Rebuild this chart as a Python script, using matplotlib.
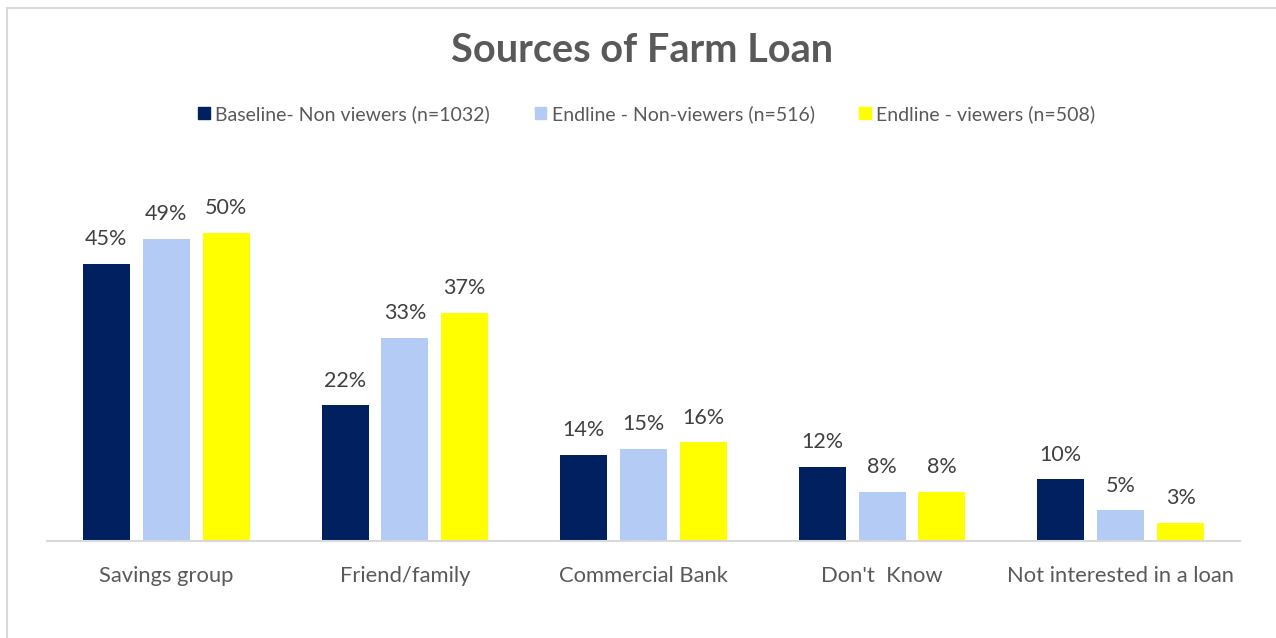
import matplotlib.pyplot as plt
import matplotlib.patches as mpatches
import numpy as np

categories = ["Savings group", "Friend/family", "Commercial Bank", "Don't  Know", "Not interested in a loan"]
series_names = ["Baseline- Non viewers (n=1032)", "Endline - Non-viewers (n=516)", "Endline - viewers (n=508)"]
baseline_non = [45, 22, 14, 12, 10]
endline_non = [49, 33, 15, 8, 5]
endline_view = [50, 37, 16, 8, 3]
colors = ["#002060", "#B4CBF6", "#FFFF00"]

plt.rcParams['font.family'] = ['Lato', 'DejaVu Sans']
text_color = "#404040"

fig = plt.figure(figsize=(12.76, 6.38), dpi=100)
ax = fig.add_axes([47 / 1276, 1 - 541 / 638, 1193 / 1276, 370 / 638])

x = np.arange(len(categories))
width = 0.197
step = 0.251
all_series = [baseline_non, endline_non, endline_view]
for i, (vals, col) in enumerate(zip(all_series, colors)):
    pos = x + (i - 1) * step
    bars = ax.bar(pos, vals, width=width, color=col, label=series_names[i], zorder=2)
    for b, v in zip(bars, vals):
        ax.annotate(f"{v}%", (b.get_x() + b.get_width() / 2, v), xytext=(0, 10.5),
                    textcoords='offset points', ha='center', va='bottom',
                    fontsize=15.5, color=text_color)

ax.set_xlim(-0.5, len(categories) - 0.5)
ax.set_ylim(0, 60)
ax.set_yticks([])
ax.set_xticks(x)
ax.set_xticklabels(categories, fontsize=15.8, color="#595959")
ax.tick_params(axis='x', length=0, pad=18)
for s in ['top', 'right', 'left']:
    ax.spines[s].set_visible(False)
ax.spines['bottom'].set_color("#D9D9D9")
ax.spines['bottom'].set_linewidth(1.5)

fig.text(0.503, 1 - 50 / 638, "Sources of Farm Loan", ha='center', va='center',
         fontsize=28.5, fontweight='bold', color="#595959")

handles = [mpatches.Patch(color=c, label=n) for c, n in zip(colors, series_names)]
fig.legend(handles=handles, loc='center', bbox_to_anchor=(647 / 1276, 1 - 114 / 638), ncol=3,
           frameon=False, fontsize=14, handlelength=0.57, handleheight=0.57,
           handletextpad=0.3, columnspacing=2.3, labelcolor="#595959")

border = mpatches.Rectangle((7 / 1276, -0.1), 1.2, 1 - 8 / 638 + 0.1, transform=fig.transFigure,
                            fill=False, edgecolor="#D9D9D9", linewidth=1.5)
fig.patches.append(border)

fig.savefig("out.png", dpi=100)
